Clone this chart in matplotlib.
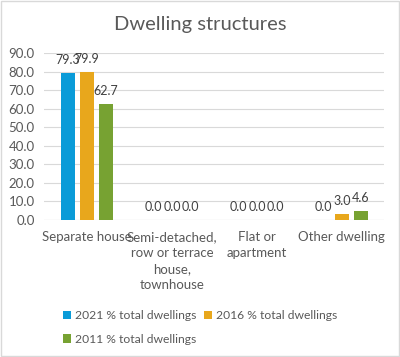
import matplotlib
matplotlib.use("Agg")
import matplotlib.pyplot as plt
import numpy as np

# data
categories = ["Separate house", "Semi-detached,\nrow or terrace\nhouse,\ntownhouse",
              "Flat or\napartment", "Other dwelling"]
series = ["2021 % total dwellings", "2016 % total dwellings", "2011 % total dwellings"]
v2021 = [79.3, 0.0, 0.0, 0.0]
v2016 = [79.9, 0.0, 0.0, 3.0]
v2011 = [62.7, 0.0, 0.0, 4.6]
colors = ["#0A9BD8", "#E8A71C", "#77A232"]

plt.rcParams['font.family'] = ['Lato', 'DejaVu Sans']
txt = "#595959"

fig = plt.figure(figsize=(4.0, 3.57), dpi=100)
ax = fig.add_axes([0.111, 0.384, 0.85, 0.467])

x = np.arange(len(categories))
w = 0.17
step = 0.223
handles = []
for i, (vals, lab) in enumerate(zip([v2021, v2016, v2011], series)):
    bars = ax.bar(x + (i - 1) * step, vals, w, color=colors[i], label=lab, zorder=3)
    handles.append(bars)
    for b, v in zip(bars, vals):
        ax.annotate(f"{v:.1f}", (b.get_x() + b.get_width() / 2, v),
                    xytext=(0, 5), textcoords="offset points",
                    ha="center", va="bottom", fontsize=9, color="#404040")

ax.set_xlim(-0.5, len(categories) - 0.5)
ax.set_ylim(0, 90)
ax.set_yticks(np.arange(0, 91, 10))
ax.set_yticklabels([f"{t:.1f}" for t in np.arange(0, 91, 10)])
ax.set_xticks(x)
ax.set_xticklabels(categories, fontsize=9.5, color=txt, linespacing=1.4)
ax.tick_params(axis="y", labelsize=9.5, labelcolor=txt, length=0, pad=7)
ax.tick_params(axis="x", length=0, pad=8)
ax.grid(axis="y", color="#D9D9D9", linewidth=0.8, zorder=0)
for s in ax.spines.values():
    s.set_visible(False)
ax.axhline(0, color="#D9D9D9", linewidth=0.8, zorder=2)

fig.suptitle("Dwelling structures", x=0.5, y=0.955, fontsize=14.5, color=txt)

# order so rows read 2021, 2016 / 2011
order = [0, 2, 1]
fig.legend([handles[k] for k in order], [series[k] for k in order],
           loc="lower center", bbox_to_anchor=(0.5, 0.0), ncol=2, frameon=False,
           fontsize=8.7, labelcolor=txt, handlelength=0.7, handleheight=0.7,
           handletextpad=0.3, columnspacing=0.6, labelspacing=1.05, borderaxespad=0.6)

# light border around chart
fig.patches.append(plt.Rectangle((0.002, 0.002), 0.996, 0.996, transform=fig.transFigure,
                                 fill=False, edgecolor="#D9D9D9", linewidth=1))

fig.savefig("out.png", dpi=100)
